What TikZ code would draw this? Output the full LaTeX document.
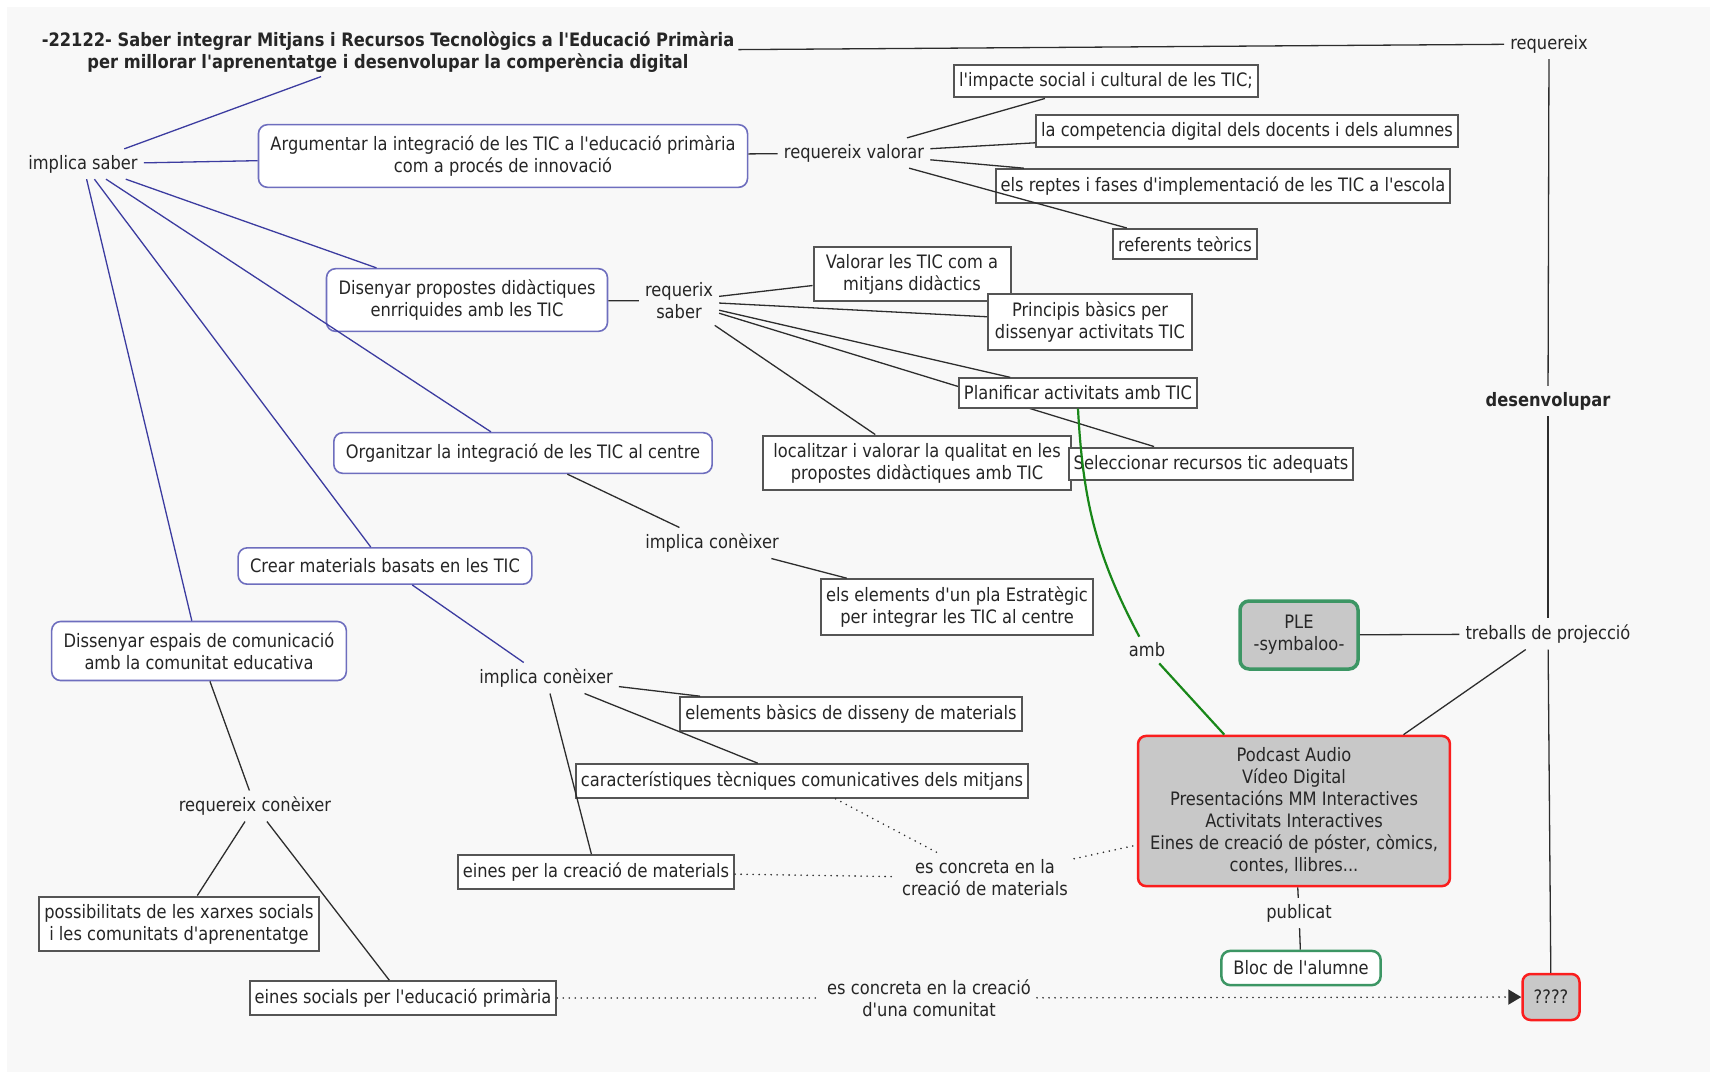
\documentclass[tikz,border=0pt]{standalone}
\usepackage{fontspec}
\newfontfamily\mapfont{DejaVu Sans}[FakeStretch=0.88]
\usetikzlibrary{arrows.meta,backgrounds}

\definecolor{mapbg}{RGB}{248,248,248}
\definecolor{cblue}{RGB}{110,110,190}
\definecolor{lblue}{RGB}{60,60,160}
\definecolor{boxline}{RGB}{85,85,85}
\definecolor{linegray}{RGB}{45,45,45}
\definecolor{boxgray}{RGB}{200,200,200}
\definecolor{mapgreen}{RGB}{25,135,25}
\definecolor{boxgreen}{RGB}{60,150,100}
\definecolor{mapred}{RGB}{250,30,30}

\begin{document}
\begin{tikzpicture}
  [x=1pt,y=-1pt,
   every node/.style={font=\mapfont\fontsize{18.5}{22}\selectfont,align=center,text=black!85,inner sep=6pt},
   concept/.style={draw=cblue,line width=1.6pt,rounded corners=9pt,fill=white,inner xsep=12pt,inner ysep=11pt},
   item/.style={draw=boxline,line width=2pt,fill=white,inner xsep=5pt,inner ysep=7.5pt},
   redbox/.style={draw=mapred,line width=2.5pt,rounded corners=8pt,fill=boxgray,inner xsep=12pt,inner ysep=12pt},
   greenbox/.style={draw=boxgreen,line width=2.5pt,rounded corners=9pt,fill=white,inner xsep=12pt,inner ysep=10pt},
   conn/.style={draw=linegray,line width=1.3pt},
   bconn/.style={draw=lblue,line width=1.3pt},
   dots/.style={draw=linegray,line width=1.8pt,line cap=round,dash pattern=on 0pt off 6pt}]

  \useasboundingbox (0,0) rectangle (1710,1072);

  \node[font=\mapfont\bfseries\fontsize{18.5}{22}\selectfont,inner sep=4pt] (title) at (388,52)
    {-22122- Saber integrar Mitjans i Recursos Tecnològics a l'Educació Primària\\per millorar l'aprenentatge i desenvolupar la comperència digital};
  \node (req) at (1549,44) {requereix};
  \node[font=\mapfont\bfseries\fontsize{18.5}{22}\selectfont] (desv) at (1548,401) {desenvolupar};
  \node (treb) at (1548,634) {treballs de projecció};
  \node[redbox,minimum width=57pt,minimum height=46pt,inner sep=4pt] (pend) at (1551,997) {????};
  \node[greenbox,fill=boxgray,line width=3.5pt,minimum width=118pt,minimum height=68pt] (ple) at (1299,635) {PLE\\-symbaloo-};
  \node[redbox] (pod) at (1294,811) {Podcast Audio\\Vídeo Digital\\Presentacións MM Interactives\\Activitats Interactives\\Eines de creació de póster, còmics,\\contes, llibres...};
  \node (amb) at (1147,650) {amb};
  \node (pub) at (1299,913) {publicat};
  \node[greenbox] (bloc) at (1301,968) {Bloc de l'alumne};
  \node (ecom) at (929,998) {es concreta en la creació\\d'una comunitat};

  \node (isab) at (83,164) {implica saber};
  \node[concept] (arg) at (503,156) {Argumentar la integració de les TIC a l'educació primària\\com a procés de innovació};
  \node (rval) at (854,153) {requereix valorar};
  \node[item] (imp) at (1106,81) {l'impacte social i cultural de les TIC;};
  \node[item] (comp) at (1247,131) {la competencia digital dels docents i dels alumnes};
  \node[item] (rept) at (1223,186) {els reptes i fases d'implementació de les TIC a l'escola};
  \node[item] (refs) at (1185,244) {referents teòrics};

  \node[concept] (dprop) at (467,300) {Disenyar propostes didàctiques\\enrriquides amb les TIC};
  \node (rsab) at (679,301) {requerix\\saber};
  \node[item,minimum width=197pt] (valm) at (912,274) {Valorar les TIC com a\\mitjans didàctics};
  \node[item,minimum width=204pt] (princ) at (1090,322) {Principis bàsics per\\dissenyar activitats TIC};
  \node[item] (plan) at (1078,393) {Planificar activitats amb TIC};
  \node[item,minimum width=308pt] (local) at (917,463) {localitzar i valorar la qualitat en les\\propostes didàctiques amb TIC};
  \node[item] (selec) at (1211,464) {Seleccionar recursos tic adequats};

  \node[concept] (org) at (523,453) {Organitzar la integració de les TIC al centre};
  \node (icon1) at (712,543) {implica conèixer};
  \node[item] (elem) at (957,607) {els elements d'un pla Estratègic\\per integrar les TIC al centre};

  \node[concept] (crear) at (385,566) {Crear materials basats en les TIC};
  \node (icon2) at (546,678) {implica conèixer};
  \node[item] (basic) at (851,714) {elements bàsics de disseny de materials};
  \node[item] (carac) at (802,781) {característiques tècniques comunicatives dels mitjans};
  \node[item] (eines) at (596,872) {eines per la creació de materials};
  \node (ecm) at (985,878) {es concreta en la\\creació de materials};

  \node[concept] (desp) at (199,651) {Dissenyar espais de comunicació\\amb la comunitat educativa};
  \node (rcon) at (255,806) {requereix conèixer};
  \node[item] (poss) at (179,924) {possibilitats de les xarxes socials\\i les comunitats d'aprenentatge};
  \node[item] (esoc) at (403,998) {eines socials per l'educació primària};

  \begin{pgfonlayer}{background}
    \fill[white] (0,0) rectangle (1710,1072);
    \fill[mapbg] (7,7) rectangle (1710,1072);
    \draw[conn] (rsab) -- (selec);
  \end{pgfonlayer}

  \foreach \from/\to in {isab/title,isab/arg,isab/dprop,isab/org,isab/crear,isab/desp,crear/icon2}
    \draw[bconn] (\from) -- (\to);

  \foreach \from/\to in {title/req,req/desv,desv/treb,treb/pend,treb/ple,treb/pod,
      pod/pub,pub/bloc,arg/rval,rval/imp,rval/comp,rval/rept,rval/refs,
      dprop/rsab,rsab/valm,rsab/princ,rsab/plan,rsab/local,
      org/icon1,icon1/elem,icon2/basic,icon2/carac,icon2/eines,
      desp/rcon,rcon/poss,rcon/esoc}
    \draw[conn] (\from) -- (\to);

  \foreach \from/\to in {eines/ecm,carac/ecm,ecm/pod,esoc/ecom}
    \draw[dots] (\from) -- (\to);
  \draw[dots,-{Triangle[length=13pt,width=15pt]}] (ecom) -- (pend);

  \draw[mapgreen,line width=2.2pt] (plan.south) to[out=-87,in=118] (amb.120);
  \draw[mapgreen,line width=2.2pt] (amb) -- (pod);

\end{tikzpicture}
\end{document}
